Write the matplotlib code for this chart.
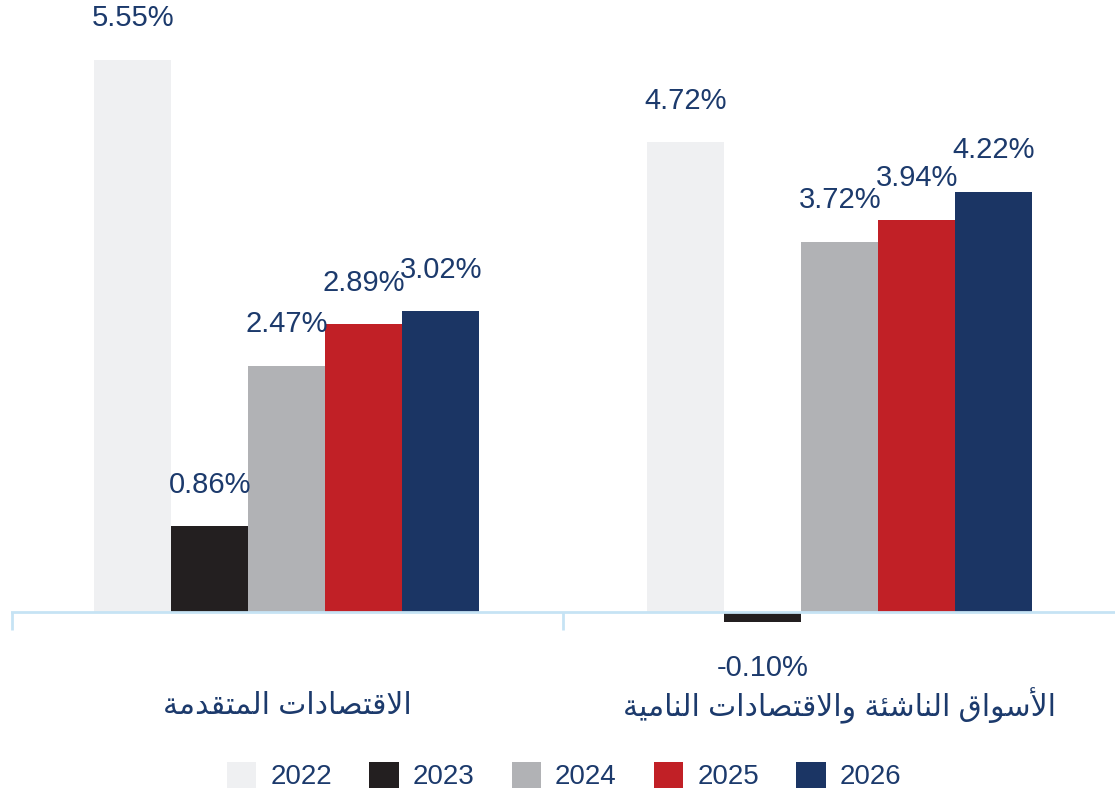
import unicodedata
import numpy as np
import matplotlib
matplotlib.use("Agg")
import matplotlib.pyplot as plt

plt.rcParams['font.family'] = ['Liberation Sans', 'DejaVu Sans']

# Data
groups = ["الاقتصادات المتقدمة", "الأسواق الناشئة والاقتصادات النامية"]
years = ["2022", "2023", "2024", "2025", "2026"]
advanced = [5.55, 0.86, 2.47, 2.89, 3.02]
emerging = [4.72, -0.10, 3.72, 3.94, 4.22]
colors = ["#eff0f2", "#231f20", "#b1b2b5", "#c12026", "#1b3564"]
text_color = "#1c3a6c"
axis_color = "#c6e3f4"

# matplotlib has no Arabic shaping, so map letters to presentation forms
FORMS = {
    '\u0627': ('\uFE8D', '\uFE8E'),
    '\u0623': ('\uFE83', '\uFE84'),
    '\u062F': ('\uFEA9', '\uFEAA'),
    '\u0629': ('\uFE93', '\uFE94'),
    '\u0648': ('\uFEED', '\uFEEE'),
    '\u0644': ('\uFEDD', '\uFEDE', '\uFEDF', '\uFEE0'),
    '\u0642': ('\uFED5', '\uFED6', '\uFED7', '\uFED8'),
    '\u062A': ('\uFE95', '\uFE96', '\uFE97', '\uFE98'),
    '\u0635': ('\uFEB9', '\uFEBA', '\uFEBB', '\uFEBC'),
    '\u0645': ('\uFEE1', '\uFEE2', '\uFEE3', '\uFEE4'),
    '\u0633': ('\uFEB1', '\uFEB2', '\uFEB3', '\uFEB4'),
    '\u0646': ('\uFEE5', '\uFEE6', '\uFEE7', '\uFEE8'),
    '\u0634': ('\uFEB5', '\uFEB6', '\uFEB7', '\uFEB8'),
    '\u0626': ('\uFE89', '\uFE8A', '\uFE8B', '\uFE8C'),
    '\u064A': ('\uFEF1', '\uFEF2', '\uFEF3', '\uFEF4'),
}
LAM_ALEF = {'\u0627': ('\uFEFB', '\uFEFC'), '\u0623': ('\uFEF7', '\uFEF8')}


def shape(text):
    text = unicodedata.normalize("NFC", text)
    units = []
    i = 0
    while i < len(text):
        c = text[i]
        if c == '\u0644' and i + 1 < len(text) and text[i + 1] in LAM_ALEF:
            units.append(LAM_ALEF[text[i + 1]])
            i += 2
        elif c in FORMS:
            units.append(FORMS[c])
            i += 1
        else:
            units.append(c)
            i += 1
    out = []
    for k, u in enumerate(units):
        if isinstance(u, str):
            out.append(u)
            continue
        prev = units[k - 1] if k > 0 else None
        nxt = units[k + 1] if k + 1 < len(units) else None
        jp = isinstance(prev, tuple) and len(prev) == 4
        jn = len(u) == 4 and isinstance(nxt, tuple)
        if jp and jn:
            out.append(u[3])
        elif jp:
            out.append(u[1])
        elif jn:
            out.append(u[2])
        else:
            out.append(u[0])
    return ''.join(reversed(out))


fig = plt.figure(figsize=(11.15, 7.95), dpi=100)
ax = fig.add_axes([0.0095, 0.1926, 0.9915, 0.7886])
ax.set_xlim(-0.5, 1.5)
ax.set_ylim(-0.3, 6.0)
ax.axis("off")

x = np.arange(len(groups))
width = 0.1393
values = np.array([advanced, emerging])
bars = []
for j, year in enumerate(years):
    offs = (j - 2) * width
    b = ax.bar(x + offs, values[:, j], width, color=colors[j], label=year, zorder=2)
    bars.append(b)
    for xi, v in zip(x + offs, values[:, j]):
        if v >= 0:
            ax.text(xi, v + 0.42, f"{v:.2f}%", ha="center", va="center",
                    fontsize=21, color=text_color)
        else:
            ax.text(xi, v - 0.46, f"{v:.2f}%", ha="center", va="center",
                    fontsize=21, color=text_color)

# baseline and group separators
ax.axhline(0, color=axis_color, lw=2, zorder=3)
ax.vlines([-0.498, 0.5, 1.5], -0.18, 0, color=axis_color, lw=2, clip_on=False, zorder=3)

for xi, g in zip(x, groups):
    ax.text(xi, -0.94, shape(g), ha="center", va="center", fontsize=21.5,
            color=text_color, clip_on=False)

fig.legend(handles=bars, labels=years, loc="center", bbox_to_anchor=(0.506, 0.024),
           ncol=5, frameon=False, fontsize=20, labelcolor=text_color,
           handlelength=1.05, handleheight=1.05, handletextpad=0.5,
           columnspacing=1.35, borderpad=0)

fig.savefig("out.png", dpi=100)
